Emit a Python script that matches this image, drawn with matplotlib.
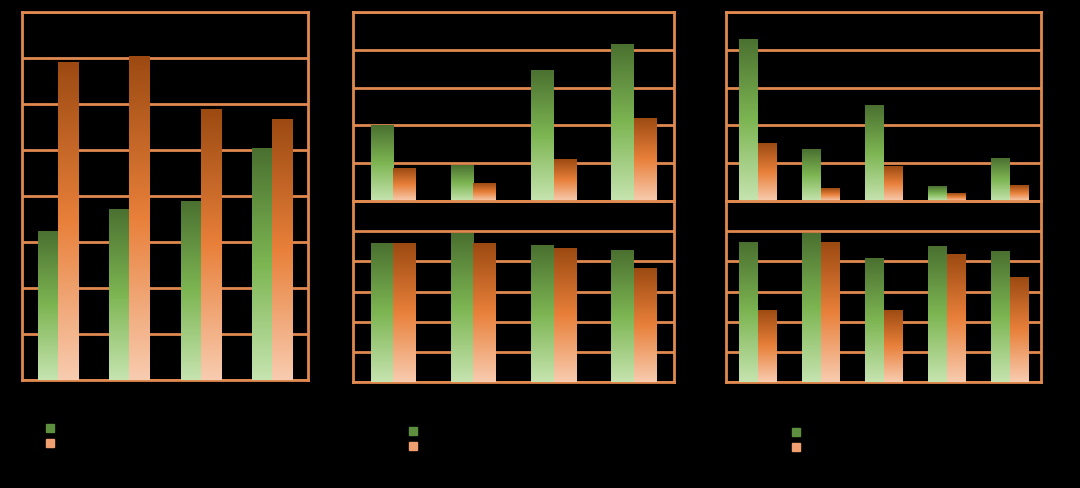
import numpy as np
import matplotlib.pyplot as plt
from matplotlib.colors import LinearSegmentedColormap

# data (grid units)
p1_green = [3.24, 3.72, 3.9, 5.04]
p1_orange = [6.91, 7.04, 5.89, 5.67]
p2t_green = [2.0, 0.95, 3.47, 4.16]
p2t_orange = [0.87, 0.47, 1.1, 2.2]
p2b_green = [4.6, 4.93, 4.53, 4.37]
p2b_orange = [4.6, 4.6, 4.43, 3.77]
p3t_green = [4.29, 1.37, 2.53, 0.39, 1.13]
p3t_orange = [1.53, 0.34, 0.92, 0.21, 0.42]
p3b_green = [4.63, 4.93, 4.1, 4.5, 4.33]
p3b_orange = [2.4, 4.63, 2.4, 4.23, 3.47]

EDGE = '#e08a50'
green_cm = LinearSegmentedColormap.from_list('g', ['#c6e4b0', '#7db552', '#4a7030'])
orange_cm = LinearSegmentedColormap.from_list('o', ['#f8ccb0', '#e8803a', '#9c4a12'])

W, H = 1080, 489
fig = plt.figure(figsize=(W / 100, H / 100), dpi=100, facecolor='black')


def make_ax(x0, y0, x1, y1, ymax):
    ax = fig.add_axes([x0 / W, 1 - y1 / H, (x1 - x0) / W, (y1 - y0) / H])
    ax.set_facecolor('black')
    ax.set_ylim(0, ymax)
    ax.set_yticks(np.arange(0, ymax + 1))
    ax.grid(axis='y', color=EDGE, lw=2)
    ax.set_axisbelow(True)
    ax.tick_params(left=False, bottom=False, labelleft=False, labelbottom=False)
    for s in ax.spines.values():
        s.set_color(EDGE)
        s.set_linewidth(2)
    return ax


def grad_bars(ax, green, orange, width):
    n = len(green)
    ax.set_xlim(-0.5, n - 0.5)
    grad = np.linspace(0, 1, 256).reshape(-1, 1)
    for vals, cm, off in ((green, green_cm, -width / 2), (orange, orange_cm, width / 2)):
        bars = ax.bar(np.arange(n) + off, vals, width, color='none', zorder=3)
        for b in bars:
            x, y = b.get_x(), b.get_y()
            im = ax.imshow(grad, cmap=cm, origin='lower', aspect='auto', zorder=3,
                           extent=[x, x + b.get_width(), y, y + b.get_height()])
            im.set_clip_path(b)
    ax.set_ylim(ax.get_ylim())


ax1 = make_ax(22, 13, 308, 381, 8)
grad_bars(ax1, p1_green, p1_orange, 0.28)
ax2t = make_ax(353, 13, 674, 202, 5)
grad_bars(ax2t, p2t_green, p2t_orange, 0.28)
ax2b = make_ax(353, 202, 674, 383, 6)
grad_bars(ax2b, p2b_green, p2b_orange, 0.28)
ax3t = make_ax(726, 13, 1041, 202, 5)
grad_bars(ax3t, p3t_green, p3t_orange, 0.29)
ax3b = make_ax(726, 202, 1041, 383, 6)
grad_bars(ax3b, p3b_green, p3b_orange, 0.29)

# legend swatches
for lx, ly in ((50, 429), (413, 432), (796, 433)):
    fig.patches.append(plt.Rectangle(((lx - 4) / W, 1 - (ly + 4) / H), 8 / W, 8 / H,
                                     transform=fig.transFigure, color='#5e8f3e'))
    fig.patches.append(plt.Rectangle(((lx - 4) / W, 1 - (ly + 19) / H), 8 / W, 8 / H,
                                     transform=fig.transFigure, color='#f0a070'))

fig.savefig('out.png', dpi=100, facecolor='black')
